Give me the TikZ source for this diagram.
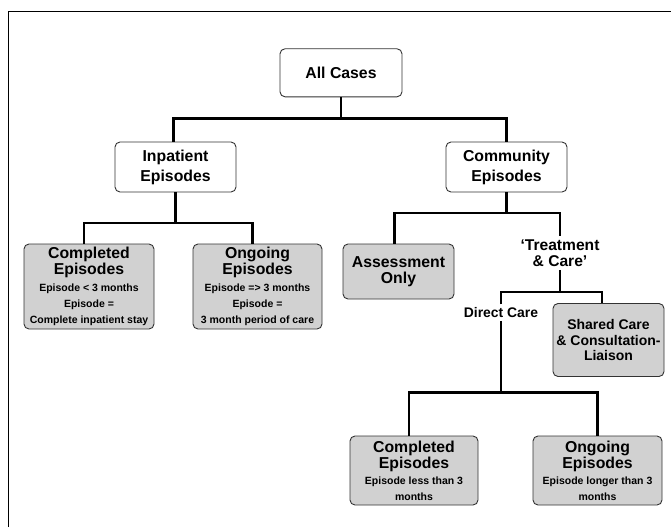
\documentclass[tikz,border=0pt]{standalone}
\usepackage{fontspec}
\setmainfont{Liberation Sans}
\usepackage{tikz}
\usetikzlibrary{positioning}
\definecolor{boxgrey}{HTML}{D1D1D1}
\definecolor{rim}{HTML}{333333}
\newcommand{\headline}{\fontsize{15.8}{16}\selectfont}

\begin{document}
\begin{tikzpicture}[x=1pt,y=-1pt,
  plainbox/.style={rectangle,rounded corners=5pt,draw=rim,line width=0.9pt,fill=white,align=center,font=\bfseries\fontsize{15.8}{20}\selectfont,inner sep=2pt},
  greybox/.style={plainbox,fill=boxgrey,font=\bfseries\fontsize{10.5}{16.3}\selectfont},
  greybig/.style={plainbox,fill=boxgrey,font=\bfseries\fontsize{15.8}{15.8}\selectfont},
  tag/.style={align=center,font=\bfseries\fontsize{15.6}{16.5}\selectfont,inner sep=3pt},
  link/.style={line width=2.6pt}]
\useasboundingbox (0,0) rectangle (671,527);
\draw[line width=1pt] (8.5,527) -- (8.5,11.3) -- (671,11.3);
% top levels
\node[plainbox,minimum width=122pt,minimum height=48pt] (s0) at (341,72.8) {All Cases};
\node[plainbox,minimum width=121pt,minimum height=50pt] (s1) at (175.5,167) {Inpatient\\Episodes};
\node[plainbox,minimum width=121pt,minimum height=50pt] (s2) at (506.5,167) {Community\\Episodes};
% inpatient branch
\node[greybox,minimum width=130pt,minimum height=85pt] (s3) at (89,286.5) {\headline Completed\\\headline Episodes\\Episode < 3 months\\Episode =\\Complete inpatient stay};
\node[greybox,minimum width=129pt,minimum height=85pt] (s4) at (257.5,286.5) {\headline Ongoing\\\headline Episodes\\Episode => 3 months\\Episode =\\3 month period of care};
% community branch
\node[greybig,minimum width=111pt,minimum height=55pt] (s5) at (398.5,271.5) {Assessment\\Only};
\node[tag] (t1) at (560,253) {`Treatment\\\& Care'};
\node[tag,font=\bfseries\fontsize{13.9}{16}\selectfont] (t2) at (501,312.6) {Direct Care};
\node[greybig,font=\bfseries\fontsize{14}{15.8}\selectfont,minimum width=111pt,minimum height=73pt] (s6) at (608.5,340) {Shared Care\\\& Consultation-\\Liaison};
\node[greybox,font=\bfseries\fontsize{10.5}{16}\selectfont,minimum width=128pt,minimum height=69pt] (s7) at (414,470.5) {\headline Completed\\\headline Episodes\\Episode less than 3\\months};
\node[greybox,font=\bfseries\fontsize{10.5}{16}\selectfont,minimum width=129pt,minimum height=69pt] (s8) at (597.5,470.5) {\headline Ongoing\\\headline Episodes\\Episode longer than 3\\months};
% connectors
\draw[link] (s0.south) -- ++(0,21.5) coordinate (j0);
\draw[link] ([xshift=-2pt]s1.north) |- (j0) -| (s2.north);
\draw[link] (s1.south) -- ++(0,30.5) coordinate (j1);
\draw[link] ([xshift=-5pt]s3.north) |- (j1) -| ([xshift=-5pt]s4.north);
\draw[link] (s2.south) -- ++(0,20.4) coordinate (j2);
\draw[link] ([xshift=-4pt]s5.north) |- (j2) -| (t1.north);
\coordinate (j3) at (560,292);
\draw[link] (t1.south) -- (j3);
\draw[link] (t2.north) |- (j3) -| ([xshift=-6.5pt]s6.north);
\coordinate (j4) at (501,392.6);
\draw[link] (t2.south) -- (j4);
\draw[link] ([xshift=-5pt]s7.north) |- (j4) -| (s8.north);
\end{tikzpicture}
\end{document}
